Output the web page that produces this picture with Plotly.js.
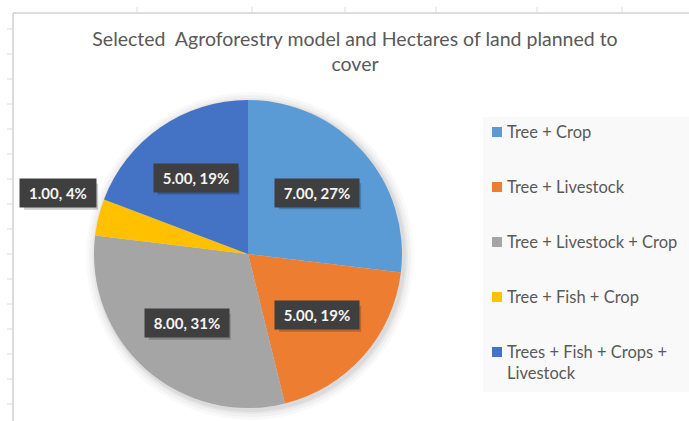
<!DOCTYPE html>
<html>
<head>
<meta charset="utf-8">
<script src="https://cdn.plot.ly/plotly-3.0.1.min.js"></script>
<style>html,body{margin:0;padding:0;background:#fff;}#chart{width:689px;height:421px;}</style>
</head>
<body>
<div id="chart"></div>
<script>
// ---- data ----
const categories = ['Tree + Crop', 'Tree + Livestock', 'Tree + Livestock + Crop', 'Tree + Fish + Crop', 'Trees + Fish + Crops + Livestock'];
const legendLabels = ['Tree + Crop', 'Tree + Livestock', 'Tree + Livestock + Crop', 'Tree + Fish + Crop', 'Trees + Fish + Crops +<br>Livestock'];
const hectares = [7, 5, 8, 1, 5];
const titleText = 'Selected  Agroforestry model and Hectares of land planned to<br>cover';

// ---- style ----
const colors = ['#5B9BD5', '#ED7D31', '#A5A5A5', '#FFC000', '#4472C4'];
const W = 689, H = 421;
const CX = 248, CY = 254, R = 154;          // pie geometry in px
const FONT = 'Lato, "Open Sans", sans-serif';
const px = x => x / W;
const py = y => 1 - y / H;

const total = hectares.reduce((a, b) => a + b, 0);

const trace = {
  type: 'pie',
  labels: categories,
  values: hectares,
  sort: false,
  direction: 'clockwise',
  rotation: 0,
  textinfo: 'none',
  hoverinfo: 'label+value+percent',
  marker: { colors: colors, line: { color: '#ffffff', width: 0 } },
  domain: { x: [px(CX - R), px(CX + R)], y: [py(CY + R), py(CY - R)] },
  showlegend: false
};

const shapes = [];
const annotations = [];

// soft shadow under the pie
[[10, 0.025], [7, 0.03], [4, 0.04], [2, 0.05]].forEach(([d, a]) => {
  shapes.push({ type: 'circle', xref: 'paper', yref: 'paper', layer: 'below',
    x0: px(CX - R - d + 2), x1: px(CX + R + d + 2), y0: py(CY + R + d + 2), y1: py(CY - R - d + 2),
    fillcolor: 'rgba(0,0,0,' + a + ')', line: { width: 0 } });
});

// spreadsheet frame: chart area top/left border with grid tick stubs
shapes.push({ type: 'line', xref: 'paper', yref: 'paper', x0: px(13), x1: 1, y0: py(13), y1: py(13), line: { color: '#d0d0d0', width: 1.5 } });
shapes.push({ type: 'line', xref: 'paper', yref: 'paper', x0: px(13), x1: px(13), y0: py(13), y1: 0, line: { color: '#d0d0d0', width: 1.5 } });
[137, 252, 345, 436, 537, 622].forEach(x => {
  shapes.push({ type: 'line', xref: 'paper', yref: 'paper', x0: px(x), x1: px(x), y0: py(7), y1: py(13), line: { color: '#dcdcdc', width: 1 } });
});
for (let y = 29; y < H; y += 25) {
  shapes.push({ type: 'line', xref: 'paper', yref: 'paper', x0: px(7), x1: px(13), y0: py(y), y1: py(y), line: { color: '#dcdcdc', width: 1 } });
}

// legend box
shapes.push({ type: 'rect', xref: 'paper', yref: 'paper', layer: 'below',
  x0: px(483), x1: 1, y0: py(392), y1: py(117), fillcolor: '#f9f9f9', line: { width: 0 } });
legendLabels.forEach((lab, i) => {
  const yc = 132 + i * 55;
  shapes.push({ type: 'rect', xref: 'paper', yref: 'paper',
    x0: px(492), x1: px(502), y0: py(yc + 5), y1: py(yc - 5), fillcolor: colors[i], line: { width: 0 } });
  annotations.push({ xref: 'paper', yref: 'paper', x: px(505), y: py(yc - 12), xanchor: 'left', yanchor: 'top',
    align: 'left', showarrow: false, text: lab, font: { family: FONT, size: 16.5, color: '#595959' } });
});

// data labels (dark boxes with a drop shadow)
let cum = 0;
hectares.forEach((v, i) => {
  const mid = (cum + v / 2) / total * 2 * Math.PI;
  cum += v;
  const pct = v / total;
  const f = pct < 0.05 ? 1.27 : 0.6;
  const x = CX + f * R * Math.sin(mid);
  const y = CY - f * R * Math.cos(mid) - (pct < 0.05 ? 14 : 0);
  const txt = v.toFixed(2) + ', ' + Math.round(pct * 100) + '%';
  const wBox = txt.length > 8 ? 82 : 74;
  shapes.push({ type: 'rect', xref: 'paper', yref: 'paper', layer: 'above',
    x0: px(x - wBox / 2 + 3), x1: px(x + wBox / 2 + 3), y0: py(y + 13.5 + 3), y1: py(y - 12.5 + 3),
    fillcolor: 'rgba(0,0,0,0.2)', line: { width: 0 } });
  annotations.push({ xref: 'paper', yref: 'paper', x: px(x), y: py(y), xanchor: 'center', yanchor: 'middle',
    showarrow: false, text: '<b>' + txt + '</b>', width: wBox, height: 26, bgcolor: '#3f3f3f',
    font: { family: FONT, size: 15, color: '#f4f4f4' } });
});

const layout = {
  width: W, height: H,
  margin: { l: 0, r: 0, t: 0, b: 0 },
  paper_bgcolor: '#ffffff',
  title: { text: titleText, font: { family: FONT, size: 19.5, color: '#595959' },
    x: px(355), xanchor: 'center', xref: 'paper', y: py(46), yref: 'container', yanchor: 'top' },
  shapes: shapes,
  annotations: annotations,
  showlegend: false
};

Plotly.newPlot('chart', [trace], layout, { displayModeBar: false, staticPlot: true });
</script>
</body>
</html>
